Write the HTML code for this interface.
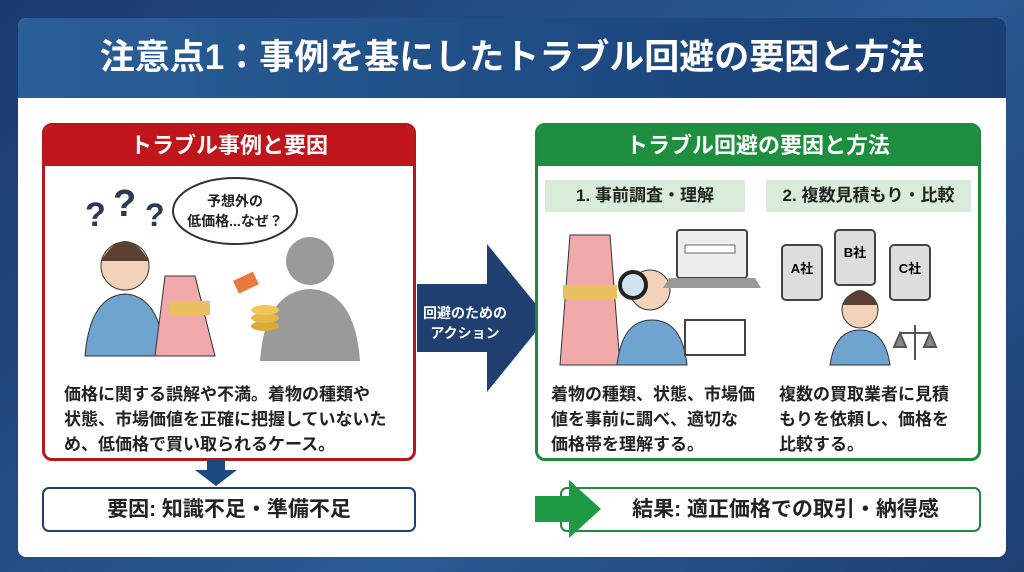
<!DOCTYPE html>
<html><head><meta charset="utf-8"><style>
*{margin:0;padding:0;box-sizing:border-box}
body{width:1024px;height:572px;overflow:hidden;background:linear-gradient(135deg,#1b3a6e,#2a5a94 60%,#1d3f72);font-family:"Liberation Sans","Noto Sans CJK JP",sans-serif;position:relative}
.abs{position:absolute}
.panel{left:18px;top:18px;width:988px;height:539px;background:#fff;border-radius:8px;overflow:hidden}
.title{left:0;top:0;width:988px;height:80px;background:linear-gradient(90deg,#2b5f98,#1d4a82 60%,#1a3f74);color:#fff;font-size:35px;font-weight:bold;text-align:center;line-height:80px;letter-spacing:0px}
.box{border:3px solid;border-radius:10px;background:#fff}
.hdr{color:#fff;font-weight:bold;font-size:22px;text-align:center;line-height:40px}
.txt{font-size:17px;font-weight:bold;color:#222;line-height:25px;white-space:nowrap}
.sub{background:#d8ecd9;font-weight:bold;font-size:17px;text-align:center;line-height:32px;color:#222}
</style></head><body>
<div class="abs panel">
<div class="abs title">注意点1：事例を基にしたトラブル回避の要因と方法</div>
</div>
<div class="abs box" style="left:42px;top:123px;width:374px;height:338px;border-color:#b3191c;overflow:hidden">
<div class="hdr" style="background:#c0161b;height:40px">トラブル事例と要因</div>
</div>
<svg class="abs" style="left:45px;top:166px" width="368" height="200">
<text x="40" y="60" font-size="34" font-weight="bold" fill="#2a3a55" font-family="Liberation Sans">?</text>
<text x="68" y="50" font-size="38" font-weight="bold" fill="#2a3a55" font-family="Liberation Sans">?</text>
<text x="100" y="60" font-size="32" font-weight="bold" fill="#2a3a55" font-family="Liberation Sans">?</text>
<ellipse cx="190" cy="45" rx="62" ry="33" fill="#fff" stroke="#333" stroke-width="2"/>
<text x="190" y="40" font-size="14" font-weight="bold" text-anchor="middle" fill="#222">予想外の</text>
<text x="190" y="60" font-size="14" font-weight="bold" text-anchor="middle" fill="#222">低価格...なぜ？</text>
<circle cx="80" cy="100" r="24" fill="#f2d2b8" stroke="#333"/>
<path d="M56 95 q24-40 48 0" fill="#5a4033"/>
<path d="M40 190 q5-60 40-62 q35 2 40 62z" fill="#6fa3d0" stroke="#333"/>
<path d="M120 110 l30 0 l20 80 l-60 0z" fill="#f1a9a9" stroke="#333"/>
<rect x="125" y="135" width="40" height="14" fill="#e8c060"/>
<circle cx="265" cy="95" r="24" fill="#9a9a9a"/>
<path d="M215 195 q5-70 50-72 q45 2 50 72z" fill="#9a9a9a"/>
<rect x="190" y="110" width="22" height="14" fill="#e87a40" transform="rotate(-25 200 117)"/>
<ellipse cx="220" cy="160" rx="14" ry="5" fill="#d9a93a"/><ellipse cx="220" cy="152" rx="14" ry="5" fill="#e6b84a"/><ellipse cx="220" cy="144" rx="14" ry="5" fill="#f0c85a"/>
</svg>
<div class="abs txt" style="left:64px;top:382px">価格に関する誤解や不満。着物の種類や<br>状態、市場価値を正確に把握していないた<br>め、低価格で買い取られるケース。</div>
<svg class="abs" style="left:195px;top:460px" width="42" height="26"><path d="M12 0h18v10h12L21 26 0 10h12z" fill="#1d4a82"/></svg>
<div class="abs box" style="left:42px;top:487px;width:374px;height:45px;border-color:#1d3f72;border-width:2px;border-radius:7px;font-size:21px;font-weight:bold;text-align:center;line-height:41px;color:#222">要因: 知識不足・準備不足</div>
<svg class="abs" style="left:417px;top:244px" width="130" height="148"><path d="M0 40h70V0l60 74-60 74v-40H0z" fill="#1e3f70"/></svg>
<div class="abs" style="left:415px;top:303px;width:100px;text-align:center;color:#fff;font-size:14px;font-weight:bold;line-height:20px">回避のための<br>アクション</div>
<div class="abs box" style="left:535px;top:123px;width:446px;height:338px;border-color:#1e8a3e;overflow:hidden">
<div class="hdr" style="background:#1e8f3f;height:40px">トラブル回避の要因と方法</div>
</div>
<div class="abs sub" style="left:545px;top:180px;width:200px">1. 事前調査・理解</div>
<div class="abs sub" style="left:766px;top:180px;width:205px">2. 複数見積もり・比較</div>
<svg class="abs" style="left:545px;top:215px" width="430" height="155">
<path d="M15 150l10-130h40l10 130z" fill="#f1a9a9" stroke="#333"/>
<rect x="18" y="70" width="54" height="14" fill="#e8c060"/>
<circle cx="105" cy="75" r="20" fill="#f2d2b8" stroke="#333"/>
<circle cx="88" cy="70" r="13" fill="#cfe3f0" stroke="#222" stroke-width="4"/>
<path d="M72 150q5-45 35-45q30 0 35 45z" fill="#6fa3d0" stroke="#333"/>
<rect x="132" y="15" width="70" height="48" rx="3" fill="#eee" stroke="#444" stroke-width="2"/>
<rect x="140" y="30" width="50" height="8" fill="#fff" stroke="#666"/>
<path d="M124 63h86l6 10h-98z" fill="#999"/>
<rect x="140" y="105" width="60" height="35" fill="#fff" stroke="#444" stroke-width="2"/>
<rect x="237" y="30" width="40" height="55" rx="4" fill="#ddd" stroke="#444" stroke-width="2"/>
<rect x="290" y="15" width="40" height="55" rx="4" fill="#ddd" stroke="#444" stroke-width="2"/>
<rect x="345" y="30" width="40" height="55" rx="4" fill="#ddd" stroke="#444" stroke-width="2"/>
<text x="257" y="58" font-size="13" font-weight="bold" text-anchor="middle">A社</text>
<text x="310" y="42" font-size="13" font-weight="bold" text-anchor="middle">B社</text>
<text x="365" y="58" font-size="13" font-weight="bold" text-anchor="middle">C社</text>
<circle cx="315" cy="95" r="18" fill="#f2d2b8" stroke="#333"/>
<path d="M297 90q18-30 36 0" fill="#5a4033"/>
<path d="M285 150q5-35 30-35q25 0 30 35z" fill="#6fa3d0" stroke="#333"/>
<path d="M370 110v35M355 118h30M355 118l-6 14h12zM385 118l-6 14h12z" stroke="#555" stroke-width="2" fill="#888"/>
</svg>
<div class="abs txt" style="left:551px;top:382px">着物の種類、状態、市場価<br>値を事前に調べ、適切な<br>価格帯を理解する。</div>
<div class="abs txt" style="left:779px;top:382px">複数の買取業者に見積<br>もりを依頼し、価格を<br>比較する。</div>
<div class="abs box" style="left:560px;top:487px;width:421px;height:45px;border-color:#1e8a3e;border-width:2px;border-radius:7px;font-size:21px;font-weight:bold;text-align:center;line-height:41px;color:#222;padding-left:30px">結果: 適正価格での取引・納得感</div>
<svg class="abs" style="left:535px;top:480px" width="66" height="58"><path d="M0 16h34V0l32 29-32 29V42H0z" fill="#1e9a45"/></svg>
</body></html>
